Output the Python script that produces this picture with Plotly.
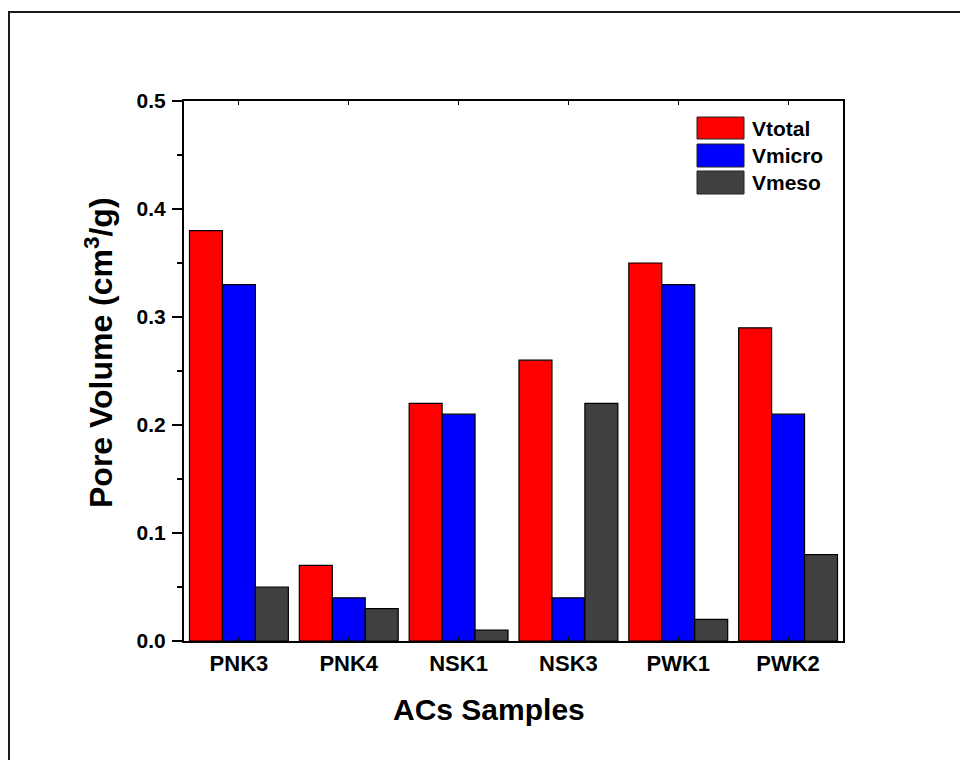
import plotly.graph_objects as go

categories = ["PNK3", "PNK4", "NSK1", "NSK3", "PWK1", "PWK2"]
series_names = ["Vtotal", "Vmicro", "Vmeso"]
v_total = [0.38, 0.07, 0.22, 0.26, 0.35, 0.29]
v_micro = [0.33, 0.04, 0.21, 0.04, 0.33, 0.21]
v_meso = [0.05, 0.03, 0.01, 0.22, 0.02, 0.08]
y_ticks = [0.0, 0.1, 0.2, 0.3, 0.4, 0.5]

colors = ["#FF0000", "#0000FF", "#404040"]
FONT = "Liberation Sans, Arial, sans-serif"

W, H = 968, 760
OFF = 8  # page body margin
L, R, T, B = 184 - OFF, 843 - OFF, 101 - OFF, 641 - OFF  # plot area in figure pixels


def px(x):
    return (x - OFF - L) / (R - L)


def py(y):
    return (B - (y - OFF)) / (B - T)


fig = go.Figure()
for name, vals, col in zip(series_names, [v_total, v_micro, v_meso], colors):
    fig.add_trace(go.Bar(
        x=categories, y=vals, name=name,
        marker=dict(color=col, line=dict(color="#000000", width=1.2)),
        showlegend=False,
    ))

shapes = []
annotations = []
# outer frame
shapes.append(dict(type="rect", xref="paper", yref="paper",
                   x0=px(9), x1=px(1000), y0=py(800), y1=py(12),
                   line=dict(color="#1a1a1a", width=2), fillcolor="rgba(0,0,0,0)"))
# legend
rows = [(117, 139), (144, 167), (171, 194)]
for (y0, y1), name, col in zip(rows, series_names, colors):
    shapes.append(dict(type="rect", xref="paper", yref="paper",
                       x0=px(697), x1=px(744), y0=py(y1), y1=py(y0),
                       line=dict(color="#222222", width=1), fillcolor=col))
    annotations.append(dict(xref="paper", yref="paper", x=px(750), y=py((y0 + y1) / 2),
                            text=name, showarrow=False, xanchor="left", yanchor="middle",
                            font=dict(family=FONT, size=21, color="black", weight="bold")))
# axis titles
annotations.append(dict(xref="paper", yref="paper", x=px(489), y=py(709),
                        text="ACs Samples", showarrow=False, xanchor="center", yanchor="middle",
                        font=dict(family=FONT, size=30, color="black", weight="bold")))
annotations.append(dict(xref="paper", yref="paper", x=px(99), y=py(353),
                        text="Pore Volume (cm<sup>3</sup>/g)", showarrow=False, textangle=-90,
                        xanchor="center", yanchor="middle",
                        font=dict(family=FONT, size=32, color="black", weight="bold")))

fig.update_layout(
    width=W, height=H,
    margin=dict(l=L, r=W - R, t=T, b=H - B, pad=0),
    paper_bgcolor="white", plot_bgcolor="white",
    barmode="group", bargap=0.1, bargroupgap=0,
    shapes=shapes, annotations=annotations,
    showlegend=False,
    font=dict(family=FONT, color="black"),
)
fig.update_xaxes(
    type="category", showline=True, linecolor="black", linewidth=2,
    mirror="ticks", ticks="inside", ticklen=4, tickwidth=1, tickcolor="black",
    showgrid=False, zeroline=False, ticklabelstandoff=2,
    tickfont=dict(family=FONT, size=22, color="black", weight="bold"),
)
fig.update_yaxes(
    range=[0, 0.5], tickvals=y_ticks, tickformat=".1f",
    showline=True, linecolor="black", linewidth=2, mirror=True,
    ticks="outside", ticklen=10, tickwidth=2, tickcolor="black",
    minor=dict(dtick=0.05, ticks="outside", ticklen=5, tickwidth=2, tickcolor="black"),
    showgrid=False, zeroline=False, ticklabelstandoff=2,
    tickfont=dict(family=FONT, size=21, color="black", weight="bold"),
)

fig.write_html("out.html")
